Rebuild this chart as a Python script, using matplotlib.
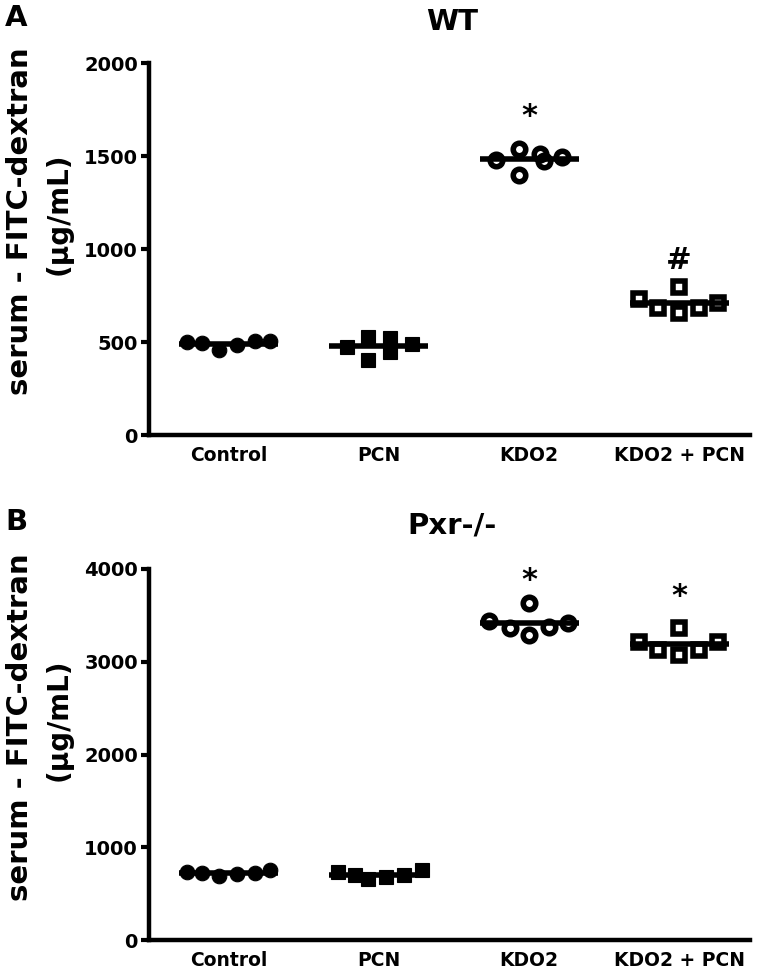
import matplotlib
matplotlib.use("Agg")
import matplotlib.pyplot as plt
import numpy as np

plt.rcParams['font.family'] = ['DejaVu Sans']
plt.rcParams['font.weight'] = 'bold'

categories = ["Control", "PCN", "KDO2", "KDO2 + PCN"]

# Panel A (WT) values, µg/mL
wt_control = [502, 493, 457, 484, 507, 507]
wt_pcn = [475, 529, 403, 520, 448, 488]
wt_kdo2 = [1480, 1540, 1400, 1510, 1475, 1495]
wt_kdo2_pcn = [730, 681, 797, 654, 683, 708]

# Panel B (Pxr-/-) values, µg/mL
ko_control = [736, 719, 690, 708, 727, 754]
ko_pcn = [736, 701, 654, 676, 701, 755]
ko_kdo2 = [3440, 3360, 3630, 3288, 3380, 3420]
ko_kdo2_pcn = [3216, 3127, 3361, 3073, 3127, 3216]

wt_marks = ["*", "#"]
ko_marks = ["*", "*"]

# horizontal spread of the dots within each group (category units)
spread_wt = [
    [-0.28, -0.18, -0.067, 0.053, 0.173, 0.273],
    [-0.21, -0.073, -0.073, 0.073, 0.073, 0.22],
    [-0.22, -0.07, -0.07, 0.07, 0.10, 0.22],
    [-0.27, -0.14, 0.0, 0.0, 0.13, 0.26],
]
spread_ko = [
    [-0.28, -0.18, -0.067, 0.053, 0.173, 0.273],
    [-0.27, -0.16, -0.07, 0.05, 0.17, 0.29],
    [-0.27, -0.13, 0.0, 0.0, 0.13, 0.26],
    [-0.27, -0.14, 0.0, 0.0, 0.13, 0.26],
]

styles = [
    dict(marker='o', ms=10.5, mfc='black', mec='black', mew=0.8),
    dict(marker='s', ms=10, mfc='black', mec='black', mew=0.8),
    dict(marker='o', ms=9, mfc='none', mec='black', mew=4),
    dict(marker='s', ms=8.5, mfc='none', mec='black', mew=4),
]

W, H = 757, 969
fig = plt.figure(figsize=(W / 100, H / 100), dpi=100)

def px_axes(left, top, right, bottom):
    return fig.add_axes([left / W, 1 - bottom / H, (right - left) / W, (bottom - top) / H])

def draw_panel(ax, groups, spreads, ymax, yticks, marks, mark_y):
    for i, (vals, sp, st) in enumerate(zip(groups, spreads, styles)):
        m = np.mean(vals)
        ax.plot([i - 0.33, i + 0.33], [m, m], color='black', lw=4,
                solid_capstyle='butt', zorder=2)
        ax.plot(np.array(sp) + i, vals, linestyle='none', zorder=3, **st)
    for j, (mk, yv) in enumerate(zip(marks, mark_y)):
        ax.text(2 + j, yv, mk, ha='center', va='center', fontsize=22,
                fontweight='bold', zorder=4)
    ax.set_xlim(-0.533, 3.473)
    ax.set_ylim(0, ymax)
    ax.set_yticks(yticks)
    ax.set_yticklabels([str(t) for t in yticks], fontsize=14, fontweight='bold')
    ax.set_xticks(range(len(categories)))
    ax.set_xticklabels(categories, fontsize=13.5, fontweight='bold')
    ax.tick_params(axis='x', length=0, pad=8)
    ax.tick_params(axis='y', length=6, width=3, pad=2)
    for s in ['top', 'right']:
        ax.spines[s].set_visible(False)
    for s in ['left', 'bottom']:
        ax.spines[s].set_linewidth(3.2)
        ax.spines[s].set_capstyle('projecting')

axA = px_axes(149, 63, 750, 435)
draw_panel(axA, [wt_control, wt_pcn, wt_kdo2, wt_kdo2_pcn], spread_wt,
           2000, [0, 500, 1000, 1500, 2000], wt_marks, [1710, 940])

axB = px_axes(149, 569, 750, 940)
draw_panel(axB, [ko_control, ko_pcn, ko_kdo2, ko_kdo2_pcn], spread_ko,
           4000, [0, 1000, 2000, 3000, 4000], ko_marks, [3880, 3700])

def ftext(x, y, s, **kw):
    fig.text(x / W, 1 - y / H, s, **kw)

ftext(452, 22, "WT", ha='center', va='center', fontsize=21, fontweight='bold')
ftext(452, 526, "Pxr-/-", ha='center', va='center', fontsize=21, fontweight='bold')
ftext(16, 18, "A", ha='center', va='center', fontsize=21, fontweight='bold')
ftext(16, 522, "B", ha='center', va='center', fontsize=21, fontweight='bold')

for off in [0, 506]:
    ftext(20, 221 + off, "serum - FITC-dextran", rotation=90, ha='center', va='center',
          fontsize=21, fontweight='bold')
    ftext(59, 214 + off, "(\u03bcg/mL)", rotation=90, ha='center', va='center',
          fontsize=20, fontweight='bold')

fig.savefig("out.png", dpi=100)
